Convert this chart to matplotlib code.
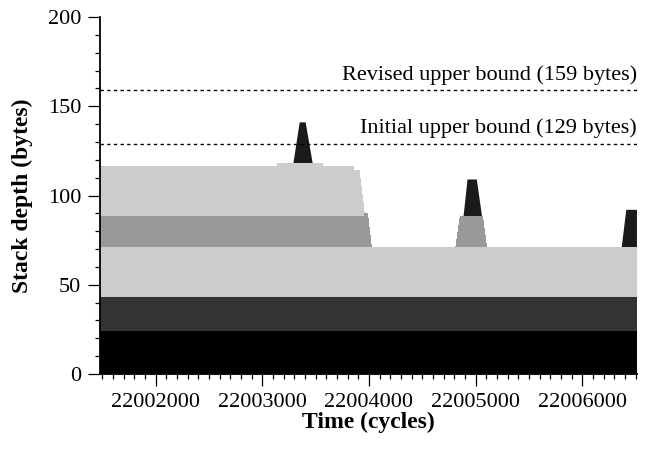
import numpy as np
import matplotlib
matplotlib.use('Agg')
import matplotlib.pyplot as plt
from matplotlib.ticker import MultipleLocator

plt.rcParams['font.family'] = 'Liberation Serif'

# time breakpoints (cycles); repeated values give vertical steps
time = [22001480, 22003141, 22003141, 22003292, 22003351, 22003407, 22003473,
        22003564, 22003564, 22003855, 22003855, 22003907, 22003961, 22003961,
        22003986, 22004023, 22004814, 22004855, 22004886, 22004924, 22005011,
        22005061, 22005065, 22005102, 22006369, 22006412, 22006512]

# constant frames at the bottom of the stack (bytes)
frame_1 = 24
frame_2 = 19
frame_3 = 28
# frames that come and go (bytes at each breakpoint)
frame_4 = [17, 17, 17, 17, 17, 17, 17, 17, 17, 17, 17, 17, 17, 19,
           19, 0, 0, 17, 17, 17, 17, 17, 17, 0, 0, 0, 0]
frame_5 = [28, 28, 30, 30, 30, 30, 30, 30, 28, 28, 26, 26, 0, 0,
           0, 0, 0, 0, 0, 0, 0, 0, 0, 0, 0, 0, 0]
frame_top = [0, 0, 0, 0, 23, 23, 0, 0, 0, 0, 0, 0, 0, 0,
             0, 0, 0, 0, 0, 21, 21, 0, 0, 0, 0, 21, 21]

colors = ['#000000', '#333333', '#cccccc', '#999999', '#cccccc', '#1a1a1a']

initial_bound = 129
revised_bound = 159

t = np.array(time)
layers = [np.full(len(t), frame_1), np.full(len(t), frame_2), np.full(len(t), frame_3),
          np.array(frame_4), np.array(frame_5), np.array(frame_top)]
tops = np.cumsum(layers, axis=0)

fig = plt.figure(figsize=(6.47, 4.49), dpi=100)
ax = fig.add_axes([0.1546, 0.167, 0.8299, 0.795])

# paint from the top of the stack downwards, each fill from zero, so no seams
for i, (top, c) in enumerate(reversed(list(zip(tops, colors)))):
    ax.fill_between(t, 0, top, facecolor=c, linewidth=0, antialiased=(i == 0))

xmin, xmax = 22001480, 22006512
for yb, label in [(revised_bound, 'Revised upper bound (159 bytes)'),
                  (initial_bound, 'Initial upper bound (129 bytes)')]:
    ax.plot([xmin, xmax], [yb, yb], color='black', linewidth=1.0, dashes=(2.4, 2.4))
    ax.text(xmax, yb + 3, label, ha='right', va='bottom', fontsize=16)

ax.set_xlim(xmin, xmax)
ax.set_ylim(0, 200)
ax.xaxis.set_major_locator(MultipleLocator(1000))
ax.xaxis.set_minor_locator(MultipleLocator(100))
ax.yaxis.set_major_locator(MultipleLocator(50))
ax.yaxis.set_minor_locator(MultipleLocator(10))
ax.ticklabel_format(useOffset=False, style='plain', axis='x')

for s in ['top', 'right']:
    ax.spines[s].set_visible(False)
for s in ['left', 'bottom']:
    ax.spines[s].set_linewidth(1.3)
ax.tick_params(which='major', direction='out', length=8.6, width=0.9, labelsize=16, pad=5)
ax.tick_params(which='minor', direction='out', length=3.6, width=0.9)

ax.set_xlabel('Time (cycles)', fontsize=17, fontweight='bold')
ax.set_ylabel('Stack depth (bytes)', fontsize=17, fontweight='bold')
ax.yaxis.set_label_coords(-0.125, 0.5)
ax.xaxis.set_label_coords(0.5, -0.105)

fig.savefig('out.png', dpi=100)
